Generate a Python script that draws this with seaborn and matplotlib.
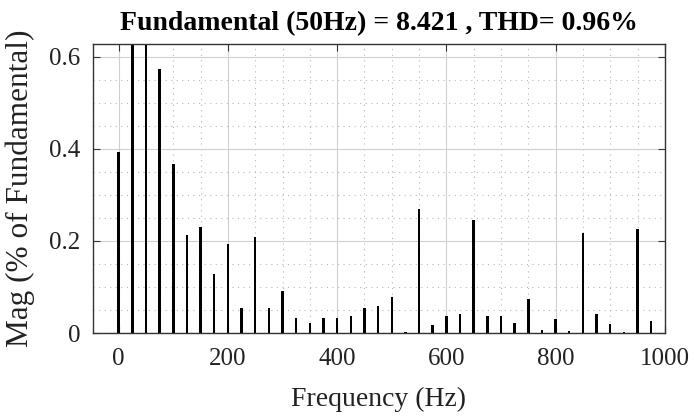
import numpy as np
import pandas as pd
import matplotlib
matplotlib.use("Agg")
import matplotlib.pyplot as plt
from matplotlib.ticker import MultipleLocator
import seaborn as sns

# Harmonic spectrum, magnitude in % of the 50 Hz fundamental
freq_hz = [0, 25, 50, 75, 100, 125, 150, 175, 200, 225, 250, 275, 300,
           325, 350, 375, 400, 425, 450, 475, 500, 525, 550, 575, 600,
           625, 650, 675, 700, 725, 750, 775, 800, 825, 850, 875, 900,
           925, 950, 975]
mag_pct = [0.394, 0.90, 100.0, 0.573, 0.367, 0.212, 0.230, 0.128, 0.193,
           0.055, 0.208, 0.055, 0.091, 0.033, 0.021, 0.033, 0.033, 0.037,
           0.055, 0.059, 0.078, 0.003, 0.270, 0.018, 0.037, 0.041, 0.245,
           0.037, 0.037, 0.022, 0.074, 0.006, 0.030, 0.004, 0.217, 0.041,
           0.019, 0.003, 0.226, 0.026]

fund_mag = 8.421
thd_pct = 0.96

df = pd.DataFrame({"Frequency": freq_hz, "Mag": mag_pct})

sns.set_style("white")
plt.rcParams["font.family"] = ["Liberation Serif", "DejaVu Serif"]

fig = plt.figure(figsize=(6.94, 4.16), dpi=100)
ax = fig.add_axes([0.134, 0.1995, 0.824, 0.695])

sns.barplot(data=df, x="Frequency", y="Mag", native_scale=True,
            width=0.18, color="black", linewidth=0, saturation=1, ax=ax)

ax.set_xlim(-47, 1000)
ax.set_ylim(0, 0.628)

ax.xaxis.set_major_locator(MultipleLocator(200))
ax.xaxis.set_minor_locator(MultipleLocator(50))
ax.yaxis.set_major_locator(MultipleLocator(0.2))
ax.yaxis.set_minor_locator(MultipleLocator(0.05))
ax.set_yticks([0, 0.2, 0.4, 0.6])
ax.set_yticklabels(["0", "0.2", "0.4", "0.6"])

ax.grid(which="major", color="#d0d0d0", linewidth=0.8, linestyle="-")
ax.grid(which="minor", color="#b8b8b8", linewidth=0.8, linestyle=(0, (1, 4)))
ax.set_axisbelow(True)

for s in ax.spines.values():
    s.set_visible(True)
    s.set_color("#333333")
    s.set_linewidth(1.0)

ax.tick_params(which="major", direction="in", length=5, width=0.8,
               top=True, right=True, bottom=True, left=True,
               labelsize=18, colors="#333333", labelcolor="#222222")
ax.tick_params(axis="x", which="major", pad=11)
ax.tick_params(axis="y", which="major", pad=9)
ax.tick_params(which="minor", direction="in", length=0)

ax.set_xlabel("Frequency (Hz)", fontsize=20, color="#222222", labelpad=12)
ax.set_ylabel("Mag (% of Fundamental)", fontsize=22.5, color="#222222",
              labelpad=10)
ax.set_title(f"Fundamental (50Hz) = {fund_mag:.3f} , THD= {thd_pct:.2f}%",
             fontsize=20, fontweight="bold", color="black", pad=10)

fig.savefig("out.png", dpi=100)
